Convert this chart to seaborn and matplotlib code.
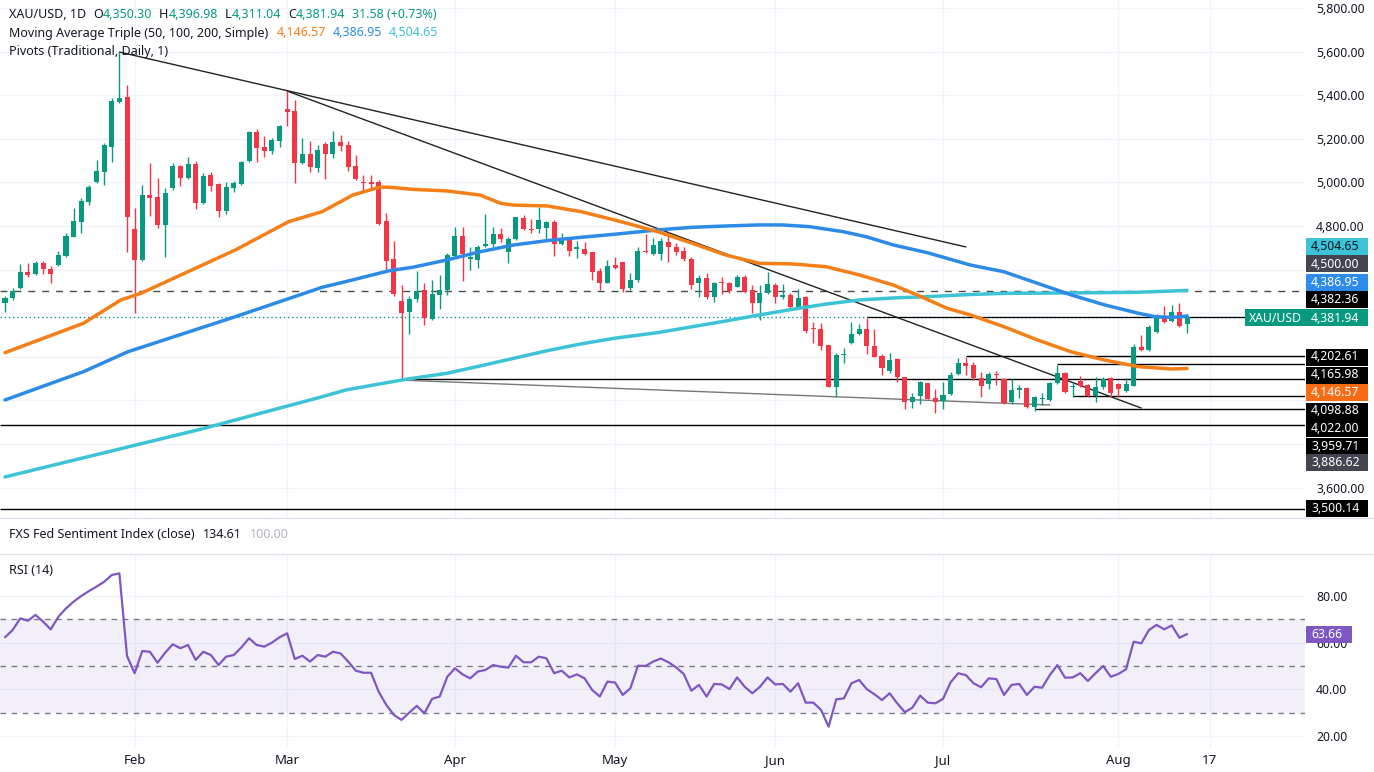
import matplotlib
matplotlib.use("Agg")
import numpy as np
import pandas as pd
import matplotlib.pyplot as plt
import seaborn as sns
from matplotlib.patches import Rectangle

# --- dados (XAU/USD diario) ---
opens = [4445, 4468, 4514, 4587, 4578, 4629, 4603, 4621, 4664, 4751, 4820, 4912, 5003, 5049, 5164, 5370,
         5390, 4786, 4644, 4942, 4935, 4805, 4976, 5077, 5019, 5084, 4907, 5034, 4993, 4869, 4976, 4993,
         5098, 5233, 5161, 5146, 5191, 5335, 5327, 5090, 5129, 5064, 5176, 5130, 5187, 5172, 5075, 5003,
         5000, 5003, 4823, 4649, 4457, 4407, 4465, 4506, 4373, 4483, 4506, 4662, 4754, 4649, 4644, 4710,
         4716, 4763, 4682, 4739, 4838, 4786, 4785, 4789, 4820, 4716, 4736, 4693, 4694, 4679, 4594, 4540,
         4621, 4633, 4514, 4552, 4685, 4670, 4670, 4728, 4705, 4685, 4647, 4537, 4560, 4476, 4545, 4537,
         4522, 4568, 4506, 4448, 4491, 4528, 4476, 4483, 4427, 4476, 4330, 4327, 4254, 4063, 4207, 4265,
         4303, 4326, 4251, 4205, 4136, 4190, 4106, 3991, 4022, 4078, 4011, 3999, 4028, 4120, 4170, 4162,
         4104, 4074, 4123, 4097, 3994, 4048, 4058, 3968, 4005, 4002, 4078, 4127, 4060, 4090, 4071, 4022,
         4060, 4101, 4075, 4043, 4068, 4243, 4231, 4315, 4387, 4366, 4404, 4350.30]
highs = [4479, 4514, 4626, 4629, 4641, 4641, 4616, 4685, 4766, 4881, 4927, 4988, 5103, 5182, 5389, 5598,
         5447, 4881, 4988, 5087, 5022, 4973, 5087, 5080, 5115, 5098, 5042, 5049, 4999, 5003, 5008, 5100,
         5237, 5243, 5213, 5202, 5263, 5419, 5378, 5202, 5190, 5172, 5187, 5236, 5217, 5191, 5126, 5034,
         5034, 5011, 4861, 4731, 4529, 4479, 4595, 4540, 4552, 4575, 4678, 4797, 4797, 4705, 4713, 4853,
         4797, 4792, 4751, 4843, 4850, 4831, 4889, 4823, 4827, 4766, 4743, 4731, 4728, 4682, 4606, 4644,
         4656, 4636, 4583, 4705, 4762, 4743, 4743, 4774, 4720, 4705, 4659, 4575, 4583, 4545, 4568, 4545,
         4575, 4575, 4529, 4529, 4591, 4540, 4534, 4491, 4509, 4479, 4361, 4357, 4254, 4219, 4239, 4361,
         4349, 4376, 4326, 4211, 4216, 4193, 4109, 4035, 4089, 4081, 4052, 4086, 4132, 4193, 4198, 4178,
         4129, 4132, 4135, 4101, 4097, 4071, 4063, 4022, 4033, 4086, 4162, 4132, 4081, 4112, 4075, 4109,
         4109, 4109, 4081, 4101, 4259, 4300, 4346, 4396, 4433, 4438, 4445, 4396.98]
lows = [4407, 4460, 4509, 4568, 4575, 4580, 4537, 4616, 4656, 4748, 4769, 4896, 4999, 4988, 5095, 5363,
        4682, 4399, 4641, 4847, 4789, 4656, 4965, 4985, 5014, 4876, 4901, 4962, 4840, 4853, 4957, 4988,
        5095, 5092, 5118, 5129, 5164, 5259, 4996, 5083, 5049, 5049, 5014, 5110, 5145, 5054, 5011, 4965,
        4968, 4805, 4590, 4479, 4093, 4303, 4453, 4346, 4369, 4418, 4483, 4652, 4549, 4598, 4606, 4705,
        4705, 4728, 4632, 4736, 4782, 4769, 4766, 4736, 4664, 4713, 4664, 4655, 4667, 4552, 4507, 4537,
        4601, 4499, 4506, 4545, 4675, 4667, 4644, 4636, 4667, 4641, 4509, 4476, 4464, 4453, 4487, 4491,
        4519, 4494, 4399, 4369, 4488, 4445, 4464, 4415, 4419, 4311, 4265, 4231, 4060, 4017, 4170, 4259,
        4300, 4213, 4198, 4117, 4124, 4086, 3959, 3964, 3982, 4005, 3941, 3959, 4025, 4117, 4117, 4094,
        4017, 4051, 4071, 3984, 3984, 4010, 3964, 3953, 3979, 3999, 4075, 4036, 4017, 4060, 4017, 3994,
        4051, 4017, 4017, 4040, 4066, 4228, 4228, 4311, 4354, 4361, 4338, 4311.04]
closes = [4468, 4503, 4587, 4575, 4629, 4601, 4578, 4667, 4754, 4821, 4915, 4980, 5052, 5172, 5375, 5389,
          4843, 4644, 4942, 4930, 4805, 4950, 5075, 5022, 5084, 4907, 5029, 4984, 4870, 4980, 4999, 5092,
          5233, 5159, 5146, 5194, 5259, 5324, 5090, 5129, 5072, 5149, 5130, 5187, 5168, 5072, 5014, 4996,
          4993, 4809, 4641, 4488, 4399, 4465, 4503, 4376, 4488, 4506, 4667, 4754, 4670, 4659, 4705, 4716,
          4763, 4740, 4740, 4843, 4785, 4783, 4827, 4820, 4716, 4736, 4685, 4705, 4672, 4590, 4537, 4617,
          4606, 4509, 4552, 4685, 4679, 4713, 4731, 4705, 4682, 4647, 4529, 4560, 4476, 4537, 4540, 4503,
          4568, 4499, 4448, 4491, 4532, 4476, 4483, 4427, 4468, 4318, 4326, 4251, 4063, 4208, 4213, 4303,
          4327, 4251, 4201, 4150, 4185, 4106, 3991, 4017, 4083, 4006, 3994, 4025, 4117, 4170, 4159, 4101,
          4068, 4120, 4117, 3990, 4048, 4058, 3968, 4017, 4010, 4078, 4124, 4040, 4066, 4066, 4022, 4063,
          4098, 4036, 4051, 4075, 4243, 4231, 4335, 4392, 4361, 4404, 4343, 4381.94]

# medias moveis (posicao em barras, preco)
ma50_x = [0, 10.3, 15.2, 17.8, 30.2, 37.2, 41.6, 45.6, 49.1, 50.4, 53.5, 57.9, 62.3, 65, 66.7, 71.1, 75.5,
          79.9, 85.6, 90.1, 94.5, 98.9, 103.3, 107.7, 112.1, 116.5, 119.6, 123.5, 126.6, 131, 135.4, 139.8,
          144.2, 148.6, 153, 155]
ma50_y = [4219, 4354, 4461, 4491, 4690, 4820, 4866, 4942, 4978, 4978, 4968, 4961, 4942, 4904, 4896, 4892,
          4866, 4828, 4774, 4721, 4667, 4629, 4626, 4613, 4575, 4529, 4484, 4423, 4392, 4338, 4277, 4223,
          4185, 4155, 4144, 4146.57]
ma100_x = [0, 10.3, 16.1, 30.2, 41.6, 44.7, 50.4, 53.5, 57.9, 62.3, 66.7, 71.1, 75.5, 79.9, 85.6, 90.1, 94.5,
           98.9, 101.9, 105.5, 109.9, 112.9, 116.5, 120.9, 126.6, 131, 135.4, 139.8, 144.2, 148.6, 150.8, 153, 155]
ma100_y = [4002, 4132, 4223, 4384, 4519, 4545, 4595, 4611, 4644, 4682, 4713, 4733, 4748, 4762, 4782, 4794,
           4800, 4805, 4805, 4797, 4774, 4751, 4713, 4678, 4621, 4590, 4537, 4484, 4438, 4400, 4384, 4381, 4386.95]
ma200_x = [0, 25.8, 41.6, 44.7, 52.6, 57.9, 62.3, 66.7, 71.1, 75.5, 79.9, 85.6, 90.1, 94.5, 98.9, 103.3, 107.7,
           112.1, 116.5, 120.9, 126, 131, 139.8, 148.6, 155]
ma200_y = [3649, 3869, 4017, 4048, 4097, 4124, 4158, 4193, 4228, 4259, 4285, 4311, 4338, 4364, 4392, 4418,
           4442, 4461, 4470, 4476, 4485, 4491, 4493, 4496, 4504.65]

rsi = [62.3, 65.4, 70.4, 69.4, 71.9, 69.0, 65.7, 71.1, 74.7, 77.6, 80.0, 82.1, 84.0, 86.1, 89.0, 89.7,
       54.3, 46.9, 56.4, 56.1, 51.4, 55.7, 59.3, 57.6, 59.0, 52.6, 56.1, 54.7, 50.4, 54.0, 54.7, 58.0,
       61.9, 59.0, 58.3, 60.0, 62.3, 64.0, 53.0, 54.4, 51.9, 54.7, 54.0, 56.1, 55.4, 51.9, 48.0, 47.1,
       47.1, 39.0, 33.3, 29.0, 26.9, 30.0, 32.9, 29.7, 35.9, 36.9, 45.4, 49.0, 46.4, 44.7, 47.6, 48.3,
       50.4, 49.7, 49.3, 54.4, 51.6, 51.6, 54.0, 53.3, 46.9, 48.0, 45.1, 46.4, 44.7, 39.7, 36.9, 43.3,
       42.9, 37.6, 40.4, 50.1, 50.0, 51.9, 53.2, 51.6, 49.4, 46.6, 39.4, 41.9, 36.9, 42.3, 42.1, 40.1,
       45.1, 41.1, 38.3, 41.1, 45.1, 42.1, 42.3, 39.0, 42.6, 34.3, 34.3, 31.2, 24.0, 35.7, 36.1, 42.6,
       44.0, 40.1, 37.9, 35.4, 38.3, 34.0, 30.2, 32.2, 37.3, 34.3, 34.0, 35.9, 43.0, 46.9, 46.1, 42.6,
       40.9, 44.7, 44.4, 37.6, 41.9, 42.3, 37.6, 41.1, 40.7, 46.1, 50.4, 45.0, 45.1, 46.9, 43.6, 46.9,
       50.0, 45.4, 46.6, 48.6, 60.4, 59.7, 65.4, 67.6, 65.7, 67.4, 62.1, 63.66]

# linhas de tendencia (barra, preco)
trend_upper = ([15, 126], [5598, 4704])
trend_steep = ([37, 149], [5419, 3965])
trend_lower = ([52, 137], [4093, 3979])

# niveis horizontais e barra onde comecam (-1 = largura toda)
levels = [4202.61, 4165.98, 4098.88, 4022.00, 3959.71, 3886.62, 3500.14]
level_start = [126, 138, 52, 140, 135, -1, -1]
pivot_level = 4382.36
pivot_start = 113
round_level = 4500.00

month_pos = [17, 37, 59, 80, 101, 123, 146, 158]
month_lbl = ["Feb", "Mar", "Apr", "May", "Jun", "Jul", "Aug", "17"]
price_ticks = [3600, 3800, 4000, 4200, 4400, 4600, 4800, 5000, 5200, 5400, 5600, 5800]
price_shown = [3600, 4800, 5000, 5200, 5400, 5600, 5800]
rsi_ticks = [20, 40, 60, 80]

# --- cores ---
GREEN = "#089981"
RED = "#F23645"
ORANGE = "#F57F17"
BLUE = "#2D8BE6"
CYAN = "#3CC3D6"
PURPLE = "#7E57C2"
DARK = "#131722"
GRID = "#F0F3FA"

sns.set_theme(style="white")
plt.rcParams["font.family"] = ["Noto Sans", "DejaVu Sans"]

W, H = 1374, 772
fig = plt.figure(figsize=(W / 100, H / 100), dpi=100)


def px_box(x0, y0, x1, y1):
    return [x0 / W, 1 - y1 / H, (x1 - x0) / W, (y1 - y0) / H]


ax = fig.add_axes(px_box(0, 0, 1305, 518))
axr = fig.add_axes(px_box(0, 554, 1305, 748), sharex=ax)

o = np.array(opens, dtype=float)
h = np.array(highs, dtype=float)
l = np.array(lows, dtype=float)
c = np.array(closes, dtype=float)
idx = np.arange(len(c))
cols = np.where(c >= o, GREEN, RED)

x_lo, x_hi = -0.656, 170.47
ax.set_xlim(x_lo, x_hi)
ax.set_ylim(3460.6, 5836.7)
axr.set_ylim(14.85, 98)

# grades
for a in (ax, axr):
    for m in month_pos:
        a.axvline(m, color=GRID, lw=1, zorder=0)
    for s in a.spines.values():
        s.set_visible(False)
for p in price_ticks:
    ax.axhline(p, color=GRID, lw=1, zorder=0)
for r in rsi_ticks:
    axr.axhline(r, color=GRID, lw=1, zorder=0)

# niveis horizontais
ax.axhline(round_level, color="#4a4a4a", lw=1, ls=(0, (5, 5)), zorder=1)
ax.axhline(c[-1], color=GREEN, lw=1, ls=(0, (1, 2)), zorder=1)
ax.hlines(pivot_level, pivot_start, x_hi, color="black", lw=0.9, zorder=1)
for lv, st in zip(levels, level_start):
    ax.hlines(lv, x_lo if st < 0 else st, x_hi, color="black", lw=1, zorder=1)

# linhas de tendencia
ax.plot(*trend_upper, color="#222222", lw=1, zorder=2)
ax.plot(*trend_steep, color="#222222", lw=1, zorder=2)
ax.plot(*trend_lower, color="#777777", lw=1, zorder=2)

# candles
ax.vlines(idx, l, h, colors=cols, lw=1, zorder=3)
ax.bar(idx, np.maximum(np.abs(c - o), 3), bottom=np.minimum(o, c), width=0.66,
       color=cols, linewidth=0, zorder=4)

# medias moveis
sns.lineplot(x=ma200_x, y=ma200_y, ax=ax, color=CYAN, lw=2.5, sort=False, estimator=None, zorder=5)
sns.lineplot(x=ma100_x, y=ma100_y, ax=ax, color=BLUE, lw=2.5, sort=False, estimator=None, zorder=5)
sns.lineplot(x=ma50_x, y=ma50_y, ax=ax, color=ORANGE, lw=2.5, sort=False, estimator=None, zorder=5)

# RSI
axr.axhspan(30, 70, color=PURPLE, alpha=0.09, lw=0, zorder=0)
for r in (70, 50, 30):
    axr.axhline(r, color="#787B86", lw=1, ls=(0, (4, 4)), zorder=1)
sns.lineplot(x=idx, y=rsi, ax=axr, color=PURPLE, lw=1.6, sort=False, estimator=None, zorder=3)

# eixos
ax.yaxis.tick_right()
ax.set_yticks(price_ticks)
ax.set_yticklabels([f"{p:,.2f}" if p in price_shown else "" for p in price_ticks])
axr.yaxis.tick_right()
axr.set_yticks(rsi_ticks)
axr.set_yticklabels([f"{r:.2f}" for r in rsi_ticks])
for a in (ax, axr):
    a.tick_params(axis="y", length=0, pad=8, labelsize=8.8, labelcolor=DARK)
    a.set_xlabel("")
    a.set_ylabel("")
ax.tick_params(axis="x", labelbottom=False, length=0)
axr.set_xticks(month_pos)
axr.set_xticklabels(month_lbl)
axr.tick_params(axis="x", length=0, pad=4, labelsize=9.5, labelcolor=DARK)

# separadores de painel
for yy in (518, 554):
    fig.add_artist(plt.Line2D([0, 1], [1 - yy / H] * 2, color="#E0E3EB", lw=1))

# etiquetas coloridas no eixo de precos
tags = [
    (246, ma200_y[-1], CYAN, DARK),
    (264, round_level, "#434651", "white"),
    (282, ma100_y[-1], "#2C8BEB", "white"),
    (299, pivot_level, "black", "white"),
    (357, levels[0], "black", "white"),
    (375, levels[1], "black", "white"),
    (393, ma50_y[-1], "#F76B15", "white"),
    (411, levels[2], "black", "white"),
    (428, levels[3], "black", "white"),
    (446, levels[4], "black", "white"),
    (463, levels[5], "#434651", "white"),
    (508, levels[6], "black", "white"),
]


def tag(ypx, text, bg, fg, x0=1306, x1=1368):
    fig.add_artist(Rectangle((x0 / W, 1 - (ypx + 8.5) / H), (x1 - x0) / W, 17 / H,
                             transform=fig.transFigure, color=bg, lw=0, zorder=5))
    fig.text(1311 / W, 1 - ypx / H, text, color=fg, fontsize=8.8, va="center", ha="left", zorder=6)


for ypx, val, bg, fg in tags:
    tag(ypx, f"{val:,.2f}", bg, fg)
tag(318, f"{c[-1]:,.2f}", GREEN, "white", x0=1245)
fig.text(1249 / W, 1 - 318 / H, "XAU/USD", color="white", fontsize=8.8, va="center", zorder=6)
tag(634, f"{rsi[-1]:.2f}", PURPLE, "white", x1=1352)


# textos de legenda no topo
def chain(parts, x, ypx, size=9):
    t = fig.text(x / W, 1 - ypx / H, parts[0][0], color=parts[0][1], fontsize=size, va="center")
    for s, col, gap in parts[1:]:
        t = ax.annotate(s, xy=(1, 0.5), xycoords=t, xytext=(gap, 0), textcoords="offset points",
                        color=col, fontsize=size, va="center", ha="left", annotation_clip=False)
    return t


chain([("XAU/USD, 1D", DARK), ("O", DARK, 5), (f"{o[-1]:,.2f}", GREEN, 0), ("H", DARK, 5),
       (f"{h[-1]:,.2f}", GREEN, 0), ("L", DARK, 5), (f"{l[-1]:,.2f}", GREEN, 0), ("C", DARK, 5),
       (f"{c[-1]:,.2f}", GREEN, 0), ("31.58 (+0.73%)", GREEN, 5)], 9, 14)
chain([("Moving Average Triple (50, 100, 200, Simple)", DARK), (f"{ma50_y[-1]:,.2f}", ORANGE, 6),
       (f"{ma100_y[-1]:,.2f}", BLUE, 5), (f"{ma200_y[-1]:,.2f}", CYAN, 5)], 9, 33)
chain([("Pivots (Traditional, Daily, 1)", DARK)], 9, 52)
chain([("FXS Fed Sentiment Index (close)", DARK), ("134.61", DARK, 6), ("100.00", "#B2B5BE", 6)], 9, 535)
chain([("RSI (14)", DARK), (f"{rsi[-1]:.2f}", PURPLE, 6)], 9, 571)

fig.savefig("out.png", dpi=100)
